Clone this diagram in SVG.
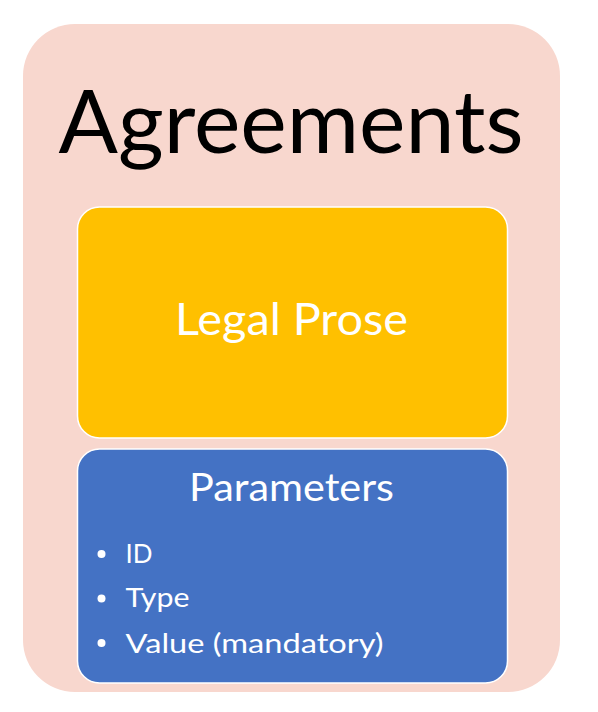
<svg xmlns="http://www.w3.org/2000/svg" width="598" height="712" viewBox="0 0 598 712">
<style>
.t{font-family:Lato,"Open Sans","Liberation Sans",sans-serif;fill:#fff}
.box{stroke:#fff;stroke-width:1.5}
.b{font-size:26.5px}
</style>
<rect width="598" height="712" fill="#fff"/>
<g id="agreements">
<rect x="23" y="24" width="537" height="668" rx="52" ry="52" fill="#F8D7CE"/>
<text x="291" y="153" text-anchor="middle" font-family="Lato,'Open Sans','Liberation Sans',sans-serif" font-size="88" fill="#000" textLength="465" lengthAdjust="spacingAndGlyphs">Agreements</text>
</g>
<g id="legal-prose">
<rect class="box" x="77.5" y="207" width="430" height="231" rx="22" ry="22" fill="#FFC000"/>
<text class="t" x="291.5" y="335" text-anchor="middle" font-size="45" textLength="233" lengthAdjust="spacingAndGlyphs">Legal Prose</text>
</g>
<g id="parameters">
<rect class="box" x="77.5" y="449" width="430" height="234" rx="22" ry="22" fill="#4472C4"/>
<text class="t" x="291.5" y="500.5" text-anchor="middle" font-size="38" textLength="205" lengthAdjust="spacingAndGlyphs">Parameters</text>
<circle cx="101.5" cy="554" r="4" fill="#fff"/>
<circle cx="101.5" cy="598.5" r="4" fill="#fff"/>
<circle cx="101.5" cy="643" r="4" fill="#fff"/>
<text class="t b" x="125.5" y="562.5" textLength="27" lengthAdjust="spacingAndGlyphs">ID</text>
<text class="t b" x="125.5" y="607" textLength="64" lengthAdjust="spacingAndGlyphs">Type</text>
<text class="t b" x="125.5" y="652.5" textLength="258" lengthAdjust="spacingAndGlyphs">Value (mandatory)</text>
</g>
<g id="connectors"/>
</svg>
